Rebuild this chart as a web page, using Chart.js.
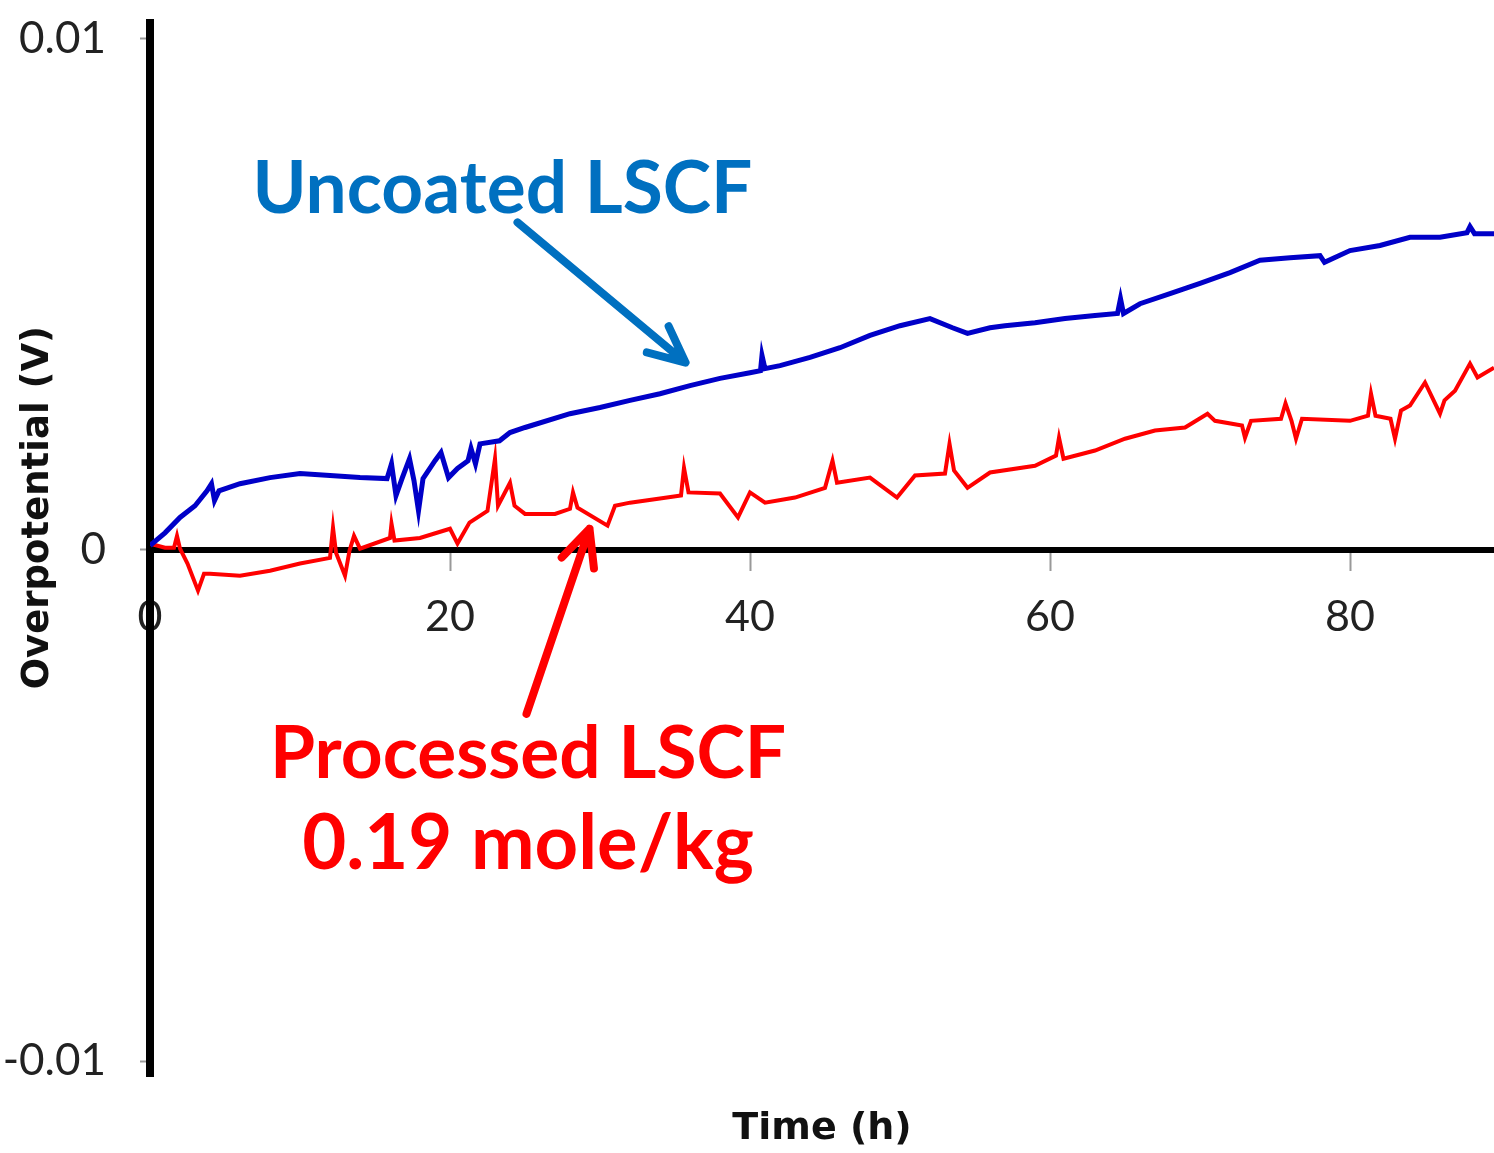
<!DOCTYPE html>
<html>
<head>
<meta charset="utf-8">
<script src="https://cdn.jsdelivr.net/npm/chart.js@4"></script>
<style>
  html, body { margin: 0; padding: 0; background: #fff; }
  canvas { display: block; }
</style>
</head>
<body>
<canvas id="chart" width="1494" height="1153"></canvas>
<script>
// Uncoated LSCF, overpotential in mV vs time in h
const blueTime = [0, 1, 2, 3, 3.8, 4.1, 4.3, 4.6, 6, 8, 10, 12, 14, 15.8, 16.1, 16.4, 16.8, 17.3, 17.6, 17.9, 18.2,
  19, 19.4, 19.9, 20.5, 21.2, 21.4, 21.7, 22, 23.3, 24, 25, 28, 30, 32, 34, 36, 38, 40, 40.7, 40.8, 41, 42, 44, 46,
  48, 50, 52, 53.5, 54.5, 56, 57, 59, 61, 63, 64.5, 64.7, 64.9, 66, 68, 70, 72, 74, 76, 78, 78.3, 80, 82, 84, 86,
  87.8, 88, 88.3, 89.6];
const blueMv = [0.08, 0.33, 0.63, 0.86, 1.15, 1.29, 0.96, 1.15, 1.29, 1.41, 1.49, 1.45, 1.41, 1.39, 1.68, 1.06, 1.39,
  1.78, 1.35, 0.76, 1.39, 1.74, 1.90, 1.41, 1.59, 1.74, 1.98, 1.68, 2.07, 2.13, 2.29, 2.39, 2.66, 2.78, 2.92, 3.05,
  3.21, 3.35, 3.46, 3.50, 3.80, 3.54, 3.60, 3.76, 3.95, 4.19, 4.38, 4.52, 4.34, 4.23, 4.34, 4.38, 4.44, 4.52, 4.58,
  4.62, 4.91, 4.62, 4.81, 5.01, 5.21, 5.42, 5.66, 5.71, 5.75, 5.62, 5.85, 5.95, 6.11, 6.11, 6.20, 6.32, 6.18, 6.18];

// Processed LSCF 0.19 mole/kg
const redTime = [0, 1, 1.6, 1.8, 2.0, 2.5, 3.2, 3.6, 4, 6, 8, 10, 12, 12.2, 12.4, 13, 13.3, 13.6, 14, 16, 16.1, 16.3,
  18, 20, 20.5, 21.3, 22.5, 23, 23.2, 24, 24.3, 25, 27, 28, 28.2, 28.5, 30.5, 31, 32, 34, 35.4, 35.6, 35.9, 38, 39.2,
  40, 41, 43, 45, 45.5, 45.8, 48, 49.8, 51, 53, 53.3, 53.6, 54.5, 56, 59, 60.4, 60.6, 60.9, 63, 65, 67, 69, 70.5, 71,
  72.8, 73, 73.4, 75.4, 75.7, 76.1, 76.4, 76.8, 80, 81.2, 81.4, 81.7, 82.7, 83, 83.4, 84, 85, 86, 86.3, 87, 88, 88.5,
  89.6];
const redMv = [0.12, 0.04, 0.04, 0.27, 0.02, -0.27, -0.80, -0.47, -0.47, -0.51, -0.41, -0.27, -0.16, 0.43, -0.06,
  -0.51, -0.02, 0.27, 0.02, 0.23, 0.51, 0.18, 0.23, 0.41, 0.12, 0.53, 0.76, 1.78, 0.86, 1.31, 0.86, 0.70, 0.70, 0.80,
  1.12, 0.82, 0.47, 0.86, 0.92, 1.00, 1.06, 1.60, 1.12, 1.10, 0.63, 1.12, 0.92, 1.02, 1.21, 1.74, 1.31, 1.41, 1.02,
  1.45, 1.49, 2.07, 1.55, 1.21, 1.51, 1.64, 1.84, 2.19, 1.78, 1.94, 2.17, 2.33, 2.39, 2.66, 2.52, 2.43, 2.19, 2.52,
  2.56, 2.86, 2.52, 2.17, 2.56, 2.52, 2.62, 3.05, 2.62, 2.56, 2.17, 2.72, 2.82, 3.27, 2.66, 2.92, 3.11, 3.64, 3.37,
  3.56];

const xTicks = [0, 20, 40, 60, 80];
const yTicks = [-0.01, 0, 0.01];
const yTickLabels = ['-0.01', '0', '0.01'];

// callouts, placed in data coordinates
const notes = [
  { text: 'Uncoated LSCF', x: 23.5, y: 0.00659, color: '#0070C0', size: 73 },
  { text: 'Processed LSCF', x: 25.2, y: -0.00446, color: '#FF0000', size: 73 },
  { text: '0.19 mole/kg', x: 25.2, y: -0.00624, color: '#FF0000', size: 76 }
];
const arrows = [
  { from: [24.5, 0.0064], to: [35.7, 0.00366], color: '#0070C0' },
  { from: [25.1, -0.00321], to: [29.3, 0.00041], color: '#FF0000' }
];

const toPoints = (ts, mv) => ts.map((t, i) => ({ x: t, y: mv[i] / 1000 }));

const callouts = {
  id: 'callouts',
  afterDraw(chart) {
    const { ctx, scales: { x, y }, chartArea } = chart;
    ctx.save();
    // y axis title sits between the tick labels
    ctx.translate(38, (chartArea.top + chartArea.bottom) / 2 - 42);
    ctx.rotate(-Math.PI / 2);
    ctx.font = 'bold 37px "DejaVu Sans"';
    ctx.fillStyle = '#111';
    ctx.textAlign = 'center';
    ctx.textBaseline = 'middle';
    ctx.fillText('Overpotential (V)', 0, 0);
    ctx.restore();

    ctx.save();
    ctx.textAlign = 'center';
    ctx.textBaseline = 'alphabetic';
    notes.forEach(n => {
      ctx.font = `bold ${n.size}px Lato`;
      ctx.fillStyle = n.color;
      ctx.fillText(n.text, x.getPixelForValue(n.x), y.getPixelForValue(n.y));
    });

    ctx.lineWidth = 8;
    ctx.lineCap = 'round';
    ctx.lineJoin = 'round';
    arrows.forEach(a => {
      const x0 = x.getPixelForValue(a.from[0]), y0 = y.getPixelForValue(a.from[1]);
      const x1 = x.getPixelForValue(a.to[0]), y1 = y.getPixelForValue(a.to[1]);
      const ang = Math.atan2(y1 - y0, x1 - x0);
      const head = 40, spread = 0.44;
      ctx.strokeStyle = a.color;
      ctx.beginPath();
      ctx.moveTo(x0, y0);
      ctx.lineTo(x1, y1);
      ctx.moveTo(x1 - head * Math.cos(ang - spread), y1 - head * Math.sin(ang - spread));
      ctx.lineTo(x1, y1);
      ctx.lineTo(x1 - head * Math.cos(ang + spread), y1 - head * Math.sin(ang + spread));
      ctx.stroke();
    });
    ctx.restore();
  }
};

new Chart(document.getElementById('chart'), {
  type: 'line',
  data: {
    datasets: [
      {
        label: 'Uncoated LSCF',
        data: toPoints(blueTime, blueMv),
        borderColor: '#0000C8',
        borderWidth: 5,
        pointRadius: 0,
        tension: 0
      },
      {
        label: 'Processed LSCF 0.19 mole/kg',
        data: toPoints(redTime, redMv),
        borderColor: '#FF0000',
        borderWidth: 4,
        pointRadius: 0,
        tension: 0
      }
    ]
  },
  options: {
    responsive: false,
    animation: false,
    layout: { padding: { top: 23, right: 0, bottom: 0, left: 0 } },
    plugins: { legend: { display: false }, tooltip: { enabled: false } },
    scales: {
      x: {
        type: 'linear',
        position: { y: 0 },
        min: 0,
        max: 89.6,
        z: 1,
        border: { color: '#000', width: 6 },
        grid: { drawOnChartArea: false, tickLength: 18, tickColor: '#999', tickWidth: 2 },
        ticks: {
          includeBounds: false,
          padding: 28,
          color: '#222',
          font: { family: 'Lato', size: 43, lineHeight: 1 },
          maxRotation: 0
        },
        afterBuildTicks: s => { s.ticks = xTicks.map(v => ({ value: v })); },
        afterFit: s => { s.paddingLeft = 0; s.paddingRight = 0; s.paddingTop = 0; s.paddingBottom = 0; }
      },
      xt: {
        type: 'linear',
        axis: 'x',
        position: 'bottom',
        min: 0,
        max: 89.6,
        grid: { display: false, drawTicks: false },
        border: { display: false },
        ticks: { display: false },
        title: {
          display: true,
          text: 'Time (h)',
          color: '#111',
          font: { family: 'DejaVu Sans', size: 38, weight: 'bold' },
          padding: { top: 30, bottom: 1 }
        }
      },
      y: {
        type: 'linear',
        position: 'left',
        min: -0.0103,
        max: 0.0103,
        z: 2,
        border: { color: '#000', width: 8 },
        grid: { drawOnChartArea: false, tickLength: 10, tickColor: '#999', tickWidth: 2 },
        ticks: {
          includeBounds: false,
          padding: 34,
          color: '#222',
          font: { family: 'Lato', size: 44, lineHeight: 1 },
          callback: v => yTickLabels[yTicks.indexOf(v)]
        },
        afterBuildTicks: s => { s.ticks = yTicks.map(v => ({ value: v })); },
        afterFit: s => { s.width = 150; s.paddingTop = 0; s.paddingBottom = 0; }
      }
    }
  },
  plugins: [callouts]
});
</script>
</body>
</html>
